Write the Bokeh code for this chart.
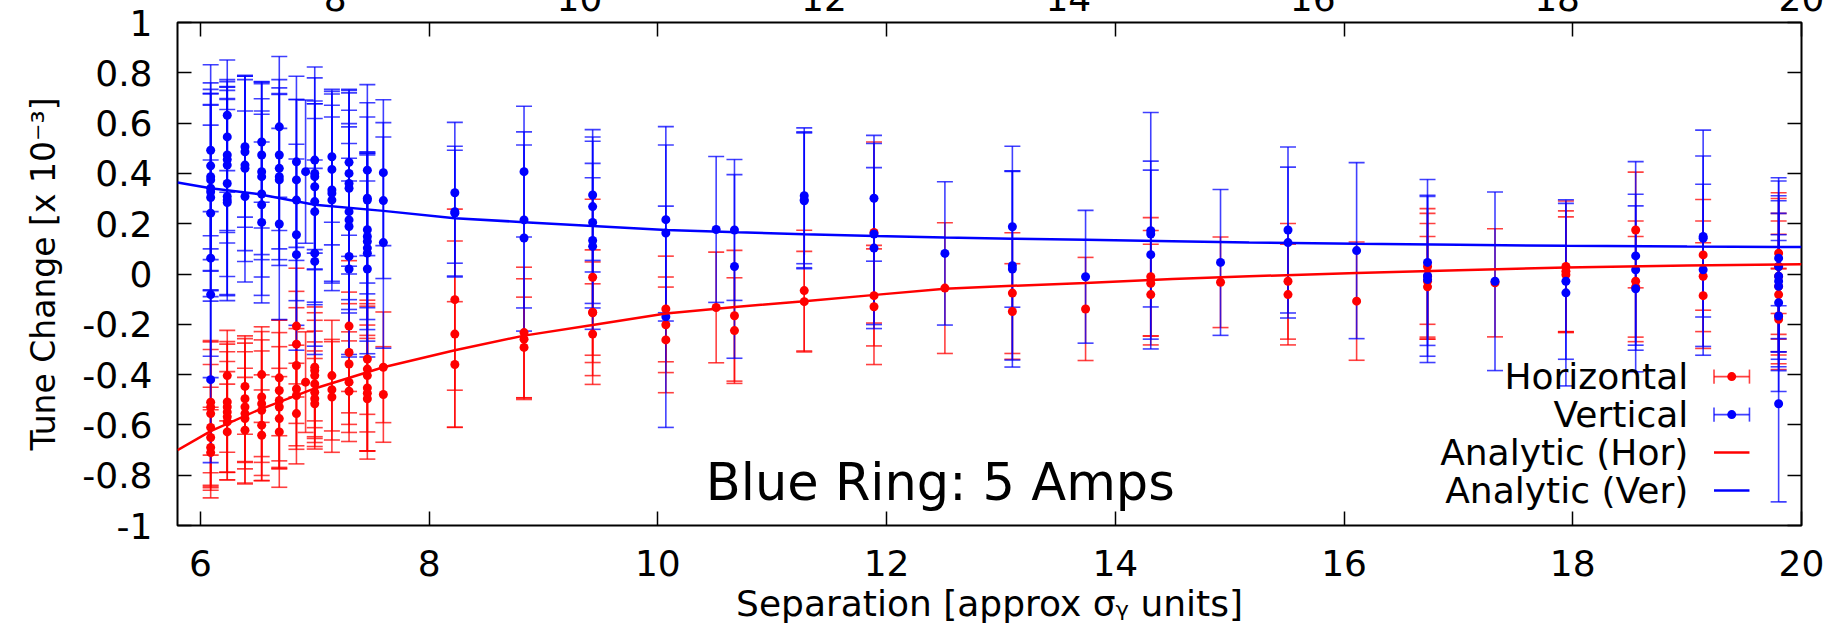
from bokeh.plotting import figure
from bokeh.models import (Range1d, LinearAxis, FixedTicker, Whisker, TeeHead,
                          ColumnDataSource, Label, InlineStyleSheet)
from bokeh.embed import file_html
from bokeh.resources import INLINE

FONT = "DejaVu Sans"
RED = "#ff0000"
BLUE = "#0000ff"

# ---------------- data ----------------
# Horizontal tune change (x 1e-3) with symmetric errors
h_x = ([6.09] * 7 + [6.235] * 7 + [6.39] * 6 + [6.536] * 6 + [6.69] * 6 + [6.84] * 6 + [6.92] +
       [7.0] * 7 + [7.15] * 3 + [7.30] * 5 + [7.46] * 6 + [7.60] * 2 + [8.225] * 3 + [8.83] * 3 +
       [9.43] * 4 + [10.07] * 3 + [10.51] + [10.67] * 2 + [11.28] * 2 + [11.89] * 3 + [12.51] +
       [13.10] * 2 + [13.74] + [14.31] * 3 + [14.92] + [15.51] * 2 + [16.11] + [16.73] * 4 +
       [17.32] + [17.94] * 3 + [18.55] * 3 + [19.14] * 3 + [19.80] * 7)
h_y = [-0.51, -0.53, -0.555, -0.61, -0.65, -0.69, -0.71,
       -0.404, -0.509, -0.529, -0.549, -0.568, -0.588, -0.628,
       -0.447, -0.496, -0.529, -0.555, -0.575, -0.621,
       -0.40, -0.489, -0.516, -0.542, -0.601, -0.641,
       -0.413, -0.463, -0.503, -0.529, -0.575, -0.628,
       -0.207, -0.279, -0.364, -0.457, -0.483, -0.555,
       -0.43,
       -0.371, -0.384, -0.404, -0.437, -0.47, -0.496, -0.516,
       -0.404, -0.46, -0.489,
       -0.207, -0.312, -0.358, -0.43, -0.466,
       -0.338, -0.378, -0.404, -0.453, -0.474, -0.496,
       -0.371, -0.479,
       -0.102, -0.239, -0.36,
       -0.233, -0.259, -0.292,
       -0.013, -0.152, -0.154, -0.239,
       -0.139, -0.202, -0.262,
       -0.133,
       -0.166, -0.225,
       -0.066, -0.11,
       0.165, -0.086, -0.13,
       -0.056,
       -0.076, -0.149,
       -0.139,
       -0.011, -0.037, -0.082,
       -0.033,
       -0.029, -0.082,
       -0.108,
       0.03, -0.009, -0.029, -0.051,
       -0.035,
       0.03, 0.011, -0.003,
       0.175, -0.029, -0.051,
       0.076, -0.009, -0.086,
       0.083, 0.03, -0.009, -0.049, -0.082, -0.167, -0.18]
h_err = [0.21, 0.26, 0.29, 0.25, 0.2, 0.15, 0.18,
         0.18, 0.2, 0.26, 0.27, 0.22, 0.2, 0.19,
         0.19, 0.25, 0.22, 0.28, 0.2, 0.21,
         0.19, 0.26, 0.21, 0.28, 0.2, 0.18,
         0.23, 0.28, 0.27, 0.24, 0.2, 0.22,
         0.23, 0.21, 0.23, 0.24, 0.2, 0.2,
         0.2,
         0.24, 0.2, 0.25, 0.21, 0.2, 0.19, 0.18,
         0.22, 0.2, 0.22,
         0.26, 0.24, 0.24, 0.2, 0.2,
         0.22, 0.25, 0.3, 0.25, 0.23, 0.24,
         0.22, 0.19,
         0.36, 0.37, 0.25,
         0.26, 0.24, 0.2,
         0.31, 0.2, 0.25, 0.2,
         0.21, 0.19, 0.21,
         0.22,
         0.26, 0.21,
         0.24, 0.2,
         0.36, 0.2, 0.23,
         0.26,
         0.24, 0.19,
         0.205,
         0.235, 0.21, 0.2,
         0.18,
         0.23, 0.2,
         0.235,
         0.23, 0.25, 0.23, 0.2,
         0.215,
         0.26, 0.24, 0.23,
         0.23, 0.24, 0.2,
         0.22, 0.22, 0.21,
         0.24, 0.27, 0.25, 0.26, 0.24, 0.19, 0.2]

# Vertical tune change (x 1e-3) with symmetric errors
v_x = ([6.09] * 11 + [6.235] * 9 + [6.39] * 5 + [6.536] * 7 + [6.69] * 6 + [6.84] * 5 + [6.92] +
       [7.0] * 8 + [7.15] * 5 + [7.30] * 9 + [7.46] * 9 + [7.60] * 3 + [8.225] * 3 + [8.83] * 3 +
       [9.43] * 5 + [10.07] * 3 + [10.51] + [10.67] * 2 + [11.28] * 3 + [11.89] * 3 + [12.51] +
       [13.10] * 3 + [13.74] + [14.31] * 3 + [14.92] + [15.51] * 2 + [16.11] + [16.73] * 3 +
       [17.32] + [17.94] * 2 + [18.55] * 3 + [19.14] * 3 + [19.80] * 8)
v_y = [0.492, 0.43, 0.387, 0.374, 0.341, 0.327, 0.304, 0.242, 0.063, -0.082, -0.42,
       0.631, 0.545, 0.473, 0.455, 0.433, 0.36, 0.308, 0.294, 0.284,
       0.506, 0.486, 0.433, 0.42, 0.308,
       0.525, 0.473, 0.407, 0.387, 0.318, 0.275, 0.205,
       0.585, 0.473, 0.42, 0.387, 0.374, 0.199,
       0.446, 0.374, 0.294, 0.156, 0.077,
       0.407,
       0.453, 0.40, 0.387, 0.347, 0.288, 0.248, 0.083, 0.05,
       0.466, 0.416, 0.334, 0.321, 0.294,
       0.444, 0.40, 0.36, 0.341, 0.248, 0.215, 0.189, 0.07, 0.02,
       0.413, 0.301, 0.294, 0.176, 0.149, 0.129, 0.103, 0.083, 0.02,
       0.403, 0.292, 0.125,
       0.323, 0.248, 0.242,
       0.407, 0.215, 0.143,
       0.314, 0.268, 0.205, 0.133, 0.11,
       0.216, 0.163, -0.17,
       0.177,
       0.175, 0.03,
       0.311, 0.295, 0.291,
       0.301, 0.159, 0.103,
       0.082,
       0.188, 0.033, 0.02,
       -0.011,
       0.172, 0.159, 0.077,
       0.046,
       0.175, 0.125,
       0.093,
       0.046, -0.007, -0.022,
       -0.029,
       -0.029, -0.075,
       0.072, 0.017, -0.059,
       0.149, 0.142, 0.017,
       0.063, 0.03, -0.009, -0.029, -0.049, -0.114, -0.167, -0.516]
v_err = [0.34, 0.33, 0.33, 0.36, 0.33, 0.39, 0.37, 0.35, 0.39, 0.33, 0.33,
         0.22, 0.22, 0.3, 0.29, 0.31, 0.37, 0.39, 0.4, 0.37,
         0.28, 0.3, 0.34, 0.37, 0.34,
         0.24, 0.29, 0.35, 0.31, 0.33, 0.36, 0.32,
         0.28, 0.3, 0.32, 0.33, 0.34, 0.38,
         0.34, 0.32, 0.4, 0.36, 0.38,
         0.285,
         0.37, 0.38, 0.29, 0.33, 0.4, 0.37, 0.37, 0.37,
         0.26, 0.3, 0.4, 0.35, 0.33,
         0.29, 0.33, 0.36, 0.31, 0.35, 0.37, 0.33, 0.39, 0.35,
         0.34, 0.38, 0.33, 0.31, 0.33, 0.35, 0.37, 0.4, 0.35,
         0.29, 0.31, 0.42,
         0.28, 0.26, 0.25,
         0.26, 0.35, 0.37,
         0.26, 0.26, 0.34, 0.25, 0.33,
         0.37, 0.35, 0.44,
         0.29,
         0.28, 0.365,
         0.27, 0.27, 0.27,
         0.25, 0.36, 0.32,
         0.285,
         0.32, 0.375, 0.39,
         0.264,
         0.47, 0.29, 0.336,
         0.29,
         0.33, 0.3,
         0.35,
         0.33, 0.32, 0.33,
         0.355,
         0.31, 0.37,
         0.375, 0.3, 0.33,
         0.32, 0.43, 0.34,
         0.32, 0.34, 0.3, 0.34, 0.29, 0.27, 0.3, 0.39]

# Analytic curves
curve_x = [5.8, 6.09, 6.5, 7.0, 7.6, 8.225, 8.83, 9.43, 10.07, 10.7, 11.28, 11.9,
           12.51, 13.1, 13.74, 14.5, 15.17, 16.11, 17.0, 17.94, 19.0, 20.0]
curve_hor = [-0.70, -0.625, -0.542, -0.455, -0.371, -0.303, -0.245, -0.203, -0.157, -0.13,
             -0.108, -0.083, -0.059, -0.047, -0.036, -0.02, -0.009, 0.004, 0.015, 0.026,
             0.034, 0.039]
curve_ver = [0.364, 0.341, 0.318, 0.275, 0.251, 0.222, 0.206, 0.191, 0.175, 0.166, 0.158,
             0.151, 0.145, 0.14, 0.136, 0.13, 0.125, 0.12, 0.116, 0.112, 0.109, 0.107]

x_ticks = [6, 8, 10, 12, 14, 16, 18, 20]
y_ticks = [-1, -0.8, -0.6, -0.4, -0.2, 0, 0.2, 0.4, 0.6, 0.8, 1]
top_ticks = [8, 10, 12, 14, 16, 18, 20]
y_labels = ["-1", "-0.8", "-0.6", "-0.4", "-0.2", "0", "0.2", "0.4", "0.6", "0.8", "1"]
legend_labels = ["Horizontal", "Vertical", "Analytic (Hor)", "Analytic (Ver)"]
title_text = "Blue Ring: 5 Amps"

# ---------------- layout constants ----------------
SHIFT = 40
FS = "36px"

p = figure(width=1848, height=629 + SHIFT,
           x_range=Range1d(5.8, 20), y_range=Range1d(-1, 1),
           output_backend="svg", toolbar_location=None,
           min_border_left=177, min_border_right=47,
           min_border_top=22 + SHIFT, min_border_bottom=104)
p.extra_x_ranges = {"x2": Range1d(6.71, 20)}
p.xgrid.visible = False
p.ygrid.visible = False
p.outline_line_color = "black"
p.outline_line_width = 2
p.background_fill_color = "white"
p.border_fill_color = "white"
p.stylesheets = [InlineStyleSheet(css=":host { margin-top: -%dpx !important; }" % SHIFT)]


def style_axis(ax):
    ax.axis_line_color = None
    ax.major_tick_in = 14
    ax.major_tick_out = 0
    ax.minor_tick_line_color = None
    ax.major_tick_line_color = "black"
    ax.major_tick_line_width = 1.5
    ax.major_label_text_font = FONT
    ax.major_label_text_font_size = FS
    ax.major_label_text_color = "black"
    ax.axis_label_text_font = FONT
    ax.axis_label_text_font_size = FS
    ax.axis_label_text_font_style = "normal"
    ax.axis_label_text_color = "black"


def hide_labels(ax):
    ax.major_label_text_color = None
    ax.major_label_text_font_size = "1px"
    ax.major_label_standoff = 0


xa = p.xaxis[0]
style_axis(xa)
xa.ticker = FixedTicker(ticks=x_ticks)
xa.major_label_standoff = 24
xa.axis_label = "Separation [approx σᵧ units]"
xa.axis_label_standoff = 4

ya = p.yaxis[0]
style_axis(ya)
ya.ticker = FixedTicker(ticks=y_ticks)
ya.major_label_overrides = dict(zip(y_ticks, y_labels))
ya.major_label_standoff = 25
ya.axis_label = "Tune Change [x 10⁻³]"
ya.axis_label_text_font_size = "33px"
ya.axis_label_standoff = 16

top_mirror = LinearAxis(ticker=FixedTicker(ticks=x_ticks))
style_axis(top_mirror)
hide_labels(top_mirror)
p.add_layout(top_mirror, "above")

top_x2 = LinearAxis(x_range_name="x2", ticker=FixedTicker(ticks=top_ticks))
style_axis(top_x2)
top_x2.major_tick_in = 0
top_x2.major_label_standoff = 12
p.add_layout(top_x2, "above")

right_mirror = LinearAxis(ticker=FixedTicker(ticks=y_ticks))
style_axis(right_mirror)
hide_labels(right_mirror)
p.add_layout(right_mirror, "right")

# ---------------- error bars & points ----------------
def add_series(xs, ys, es, color):
    src = ColumnDataSource(dict(x=xs, y=ys,
                                lo=[y - e for y, e in zip(ys, es)],
                                hi=[y + e for y, e in zip(ys, es)]))
    head = dict(size=16, line_color=color, line_width=1.6, line_alpha=0.75)
    w = Whisker(source=src, base="x", lower="lo", upper="hi",
                line_color=color, line_width=1.6, line_alpha=0.75,
                upper_head=TeeHead(**head), lower_head=TeeHead(**head))
    p.add_layout(w)
    p.scatter("x", "y", source=src, size=9, color=color, line_width=0)


add_series(h_x, h_y, h_err, RED)
add_series(v_x, v_y, v_err, BLUE)

p.line(curve_x, curve_hor, line_color=RED, line_width=2.5)
p.line(curve_x, curve_ver, line_color=BLUE, line_width=2.5)

# ---------------- title inside plot ----------------
p.add_layout(Label(x=12.47, y=-0.83, text=title_text, text_font=FONT,
                   text_font_size="51px", text_align="center",
                   text_baseline="alphabetic", text_color="black"))

# ---------------- manual legend (text right, sample on the right) ----------------
LEG_TEXT_X = 19.01
LEG_ROW_Y = [-0.408, -0.559, -0.710, -0.861]
LEG_S0, LEG_S1 = 19.235, 19.545
LEG_CAP = 0.028
leg_colors = [RED, BLUE, RED, BLUE]
for i, (lab, yy, col) in enumerate(zip(legend_labels, LEG_ROW_Y, leg_colors)):
    p.add_layout(Label(x=LEG_TEXT_X, y=yy, text=lab, text_font=FONT,
                       text_font_size=FS, text_align="right",
                       text_baseline="middle", text_color="black"))
    if i < 2:
        p.segment(x0=[LEG_S0, LEG_S0, LEG_S1], y0=[yy, yy - LEG_CAP, yy - LEG_CAP],
                  x1=[LEG_S1, LEG_S0, LEG_S1], y1=[yy, yy + LEG_CAP, yy + LEG_CAP],
                  line_color=col, line_width=1.6, line_alpha=0.75)
        p.scatter([(LEG_S0 + LEG_S1) / 2], [yy], size=9, color=col, line_width=0)
    else:
        p.segment(x0=[LEG_S0], y0=[yy], x1=[LEG_S1], y1=[yy],
                  line_color=col, line_width=2.5)

html = file_html(p, INLINE)
open("out.html", "w").write(html)
